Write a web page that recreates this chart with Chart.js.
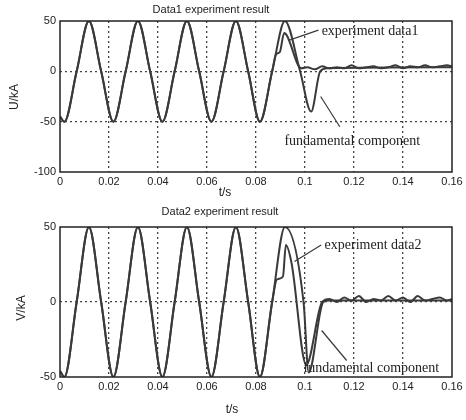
<!DOCTYPE html>
<html>
<head>
<meta charset="utf-8">
<script src="https://cdn.jsdelivr.net/npm/chart.js@4"></script>
<style>
  body { margin: 0; background: #fff; }
  .box { position: absolute; left: 0; }
</style>
</head>
<body>
<div class="box" style="top:0"><canvas id="c1" width="466" height="200"></canvas></div>
<div class="box" style="top:200px"><canvas id="c2" width="466" height="220"></canvas></div>
<script>
// ---- DATA ----
const xTickLabels = ['0', '0.02', '0.04', '0.06', '0.08', '0.1', '0.12', '0.14', '0.16'];
const yTickLabels1 = ['-100', '-50', '0', '50'];
const yTickLabels2 = ['-50', '0', '50'];

// shared waveform landmarks (troughs, zero crossings, peaks) up to the last trough
const waveT = [0, 0.0018, 0.0068, 0.0118, 0.0168, 0.0218, 0.0268, 0.0318, 0.0368, 0.0418, 0.0468, 0.0518, 0.0568, 0.0618, 0.0668, 0.0718, 0.0768, 0.0816];
const waveV1 = [-45, -50, 0, 50, 0, -50, 0, 50, 0, -50, 0, 50, 0, -50, 0, 50, 0, -50];
const waveV2 = [-46, -50, 0, 50, 0, -50, 0, 50, 0, -50, 0, 50, 0, -50, 0, 50, 0, -50];

// Data1
const exp1T = [0.0866, 0.0882, 0.0897, 0.0915, 0.0925, 0.0985, 0.101, 0.104, 0.107, 0.11, 0.113, 0.116, 0.119, 0.122, 0.125, 0.128, 0.131, 0.134, 0.137, 0.14, 0.143, 0.146, 0.149, 0.152, 0.155, 0.158, 0.16];
const exp1V = [0, 17, 19, 38, 36, 3, 4, 2, 5, 3, 4, 3, 6, 3, 4, 5, 3, 4, 6, 3, 5, 4, 6, 4, 5, 6, 5];
const fund1T = [0.0866, 0.0918, 0.098, 0.1025, 0.1062, 0.109, 0.16];
const fund1V = [0, 50, 0, -40, 0, 3, 4];

// Data2
const exp2T = [0.0866, 0.0885, 0.091, 0.0922, 0.0945, 0.1005, 0.107, 0.11, 0.113, 0.116, 0.119, 0.122, 0.125, 0.128, 0.131, 0.134, 0.137, 0.14, 0.143, 0.146, 0.149, 0.152, 0.155, 0.158, 0.16];
const exp2V = [0, 15, 17, 38, 26, -42, 0, 2, 0, 3, 1, 4, 0, 2, 1, 4, 1, 3, 0, 4, 1, 2, 3, 1, 2];
const fund2T = [0.0866, 0.0918, 0.0994, 0.1015, 0.1075, 0.11, 0.16];
const fund2V = [0, 50, 0, -47, 0, 1, 1];

const pts = (t, v) => t.map((x, i) => ({ x: x, y: v[i] }));

// ---- TEXT ----
const LINE = '#3a3a3a';
const INK = '#222';

// draws frame, titles, axis names and annotation leaders
const decor = {
  id: 'decor',
  afterDraw(chart, args, o) {
    const { ctx, chartArea: a, scales } = chart;
    const X = v => scales.x.getPixelForValue(v), Y = v => scales.y.getPixelForValue(v);
    ctx.save();
    ctx.strokeStyle = INK;
    ctx.lineWidth = 1.5;
    ctx.strokeRect(a.left, a.top, a.right - a.left, a.bottom - a.top);

    ctx.fillStyle = INK;
    ctx.textAlign = 'center';
    ctx.textBaseline = 'middle';
    ctx.font = '11px "Liberation Sans", Arial, sans-serif';
    ctx.fillText(o.title, o.titlePos[0], o.titlePos[1]);
    ctx.font = '12px "Liberation Sans", Arial, sans-serif';
    ctx.fillText('t/s', o.xNamePos[0], o.xNamePos[1]);
    ctx.save();
    ctx.translate(o.yNamePos[0], o.yNamePos[1]);
    ctx.rotate(-Math.PI / 2);
    ctx.fillText(o.yName, 0, 0);
    ctx.restore();

    ctx.font = '14px "Liberation Serif", "Times New Roman", serif';
    ctx.textAlign = 'left';
    ctx.lineWidth = 1.2;
    ctx.strokeStyle = LINE;
    o.notes.forEach(n => {
      ctx.fillText(n.text, X(n.at[0]), Y(n.at[1]));
      ctx.beginPath();
      ctx.moveTo(X(n.from[0]), Y(n.from[1]));
      ctx.lineTo(X(n.to[0]), Y(n.to[1]));
      ctx.stroke();
    });
    ctx.restore();
  }
};

function makeChart(id, cfg) {
  const tickFont = { family: '"Liberation Sans", Arial, sans-serif', size: 11 };
  const gridColor = c => (c.index === 0 || c.index === c.chart.scales[c.scale.axis].ticks.length - 1) ? 'rgba(0,0,0,0)' : '#444';
  return new Chart(document.getElementById(id).getContext('2d'), {
    type: 'line',
    data: {
      datasets: [
        { label: 'fundamental', data: pts(waveT, cfg.wave).concat(pts(cfg.fundT, cfg.fundV)) },
        { label: 'experiment', data: pts(waveT, cfg.wave).concat(pts(cfg.expT, cfg.expV)) }
      ].map(d => Object.assign(d, {
        borderColor: LINE, borderWidth: 2, pointRadius: 0,
        cubicInterpolationMode: 'monotone', fill: false
      }))
    },
    options: {
      responsive: false,
      animation: false,
      layout: { padding: { top: cfg.top, right: 14, left: 0, bottom: 0 } },
      plugins: { legend: { display: false }, tooltip: { enabled: false }, decor: cfg.decor },
      scales: {
        x: {
          type: 'linear', min: 0, max: 0.16,
          afterFit: s => { s.height = cfg.xHeight; },
          ticks: { stepSize: 0.02, color: INK, font: tickFont, padding: 3, maxRotation: 0,
                   callback: (v, i) => xTickLabels[i] },
          grid: { color: gridColor, lineWidth: 1.3, drawTicks: false },
          border: { display: false, dash: [2, 3] }
        },
        y: {
          min: cfg.ymin, max: 50,
          afterFit: s => { s.width = 60; },
          ticks: { stepSize: 50, color: INK, font: tickFont, padding: 4,
                   callback: (v, i) => cfg.yLabels[i] },
          grid: { color: gridColor, lineWidth: 1.3, drawTicks: false },
          border: { display: false, dash: [2, 3] }
        }
      }
    },
    plugins: [decor]
  });
}

makeChart('c1', {
  wave: waveV1, expT: exp1T, expV: exp1V, fundT: fund1T, fundV: fund1V,
  ymin: -100, yLabels: yTickLabels1, top: 21, xHeight: 28,
  decor: {
    title: 'Data1 experiment result', titlePos: [211, 10],
    xNamePos: [225, 193], yName: 'U/kA', yNamePos: [15, 97],
    notes: [
      { text: 'experiment data1', at: [0.1068, 40], from: [0.1055, 41], to: [0.0936, 31] },
      { text: 'fundamental component', at: [0.0916, -70], from: [0.1142, -55], to: [0.1064, -25] }
    ]
  }
});

makeChart('c2', {
  wave: waveV2, expT: exp2T, expV: exp2V, fundT: fund2T, fundV: fund2V,
  ymin: -50, yLabels: yTickLabels2, top: 27, xHeight: 43,
  decor: {
    title: 'Data2 experiment result', titlePos: [220, 12],
    xNamePos: [232, 210], yName: 'V/kA', yNamePos: [22, 108],
    notes: [
      { text: 'experiment data2', at: [0.108, 38], from: [0.1066, 38], to: [0.0957, 27] },
      { text: 'fundamental component', at: [0.0994, -44], from: [0.117, -39], to: [0.1068, -19] }
    ]
  }
});
</script>
</body>
</html>
